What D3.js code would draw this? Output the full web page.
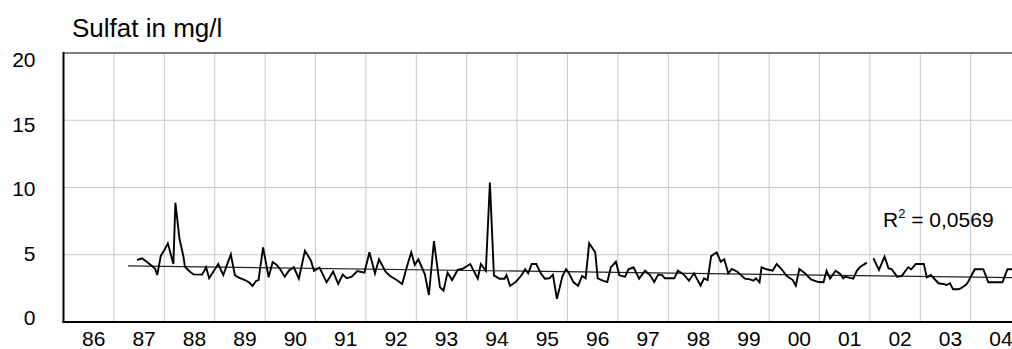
<!DOCTYPE html>
<html>
<head>
<meta charset="utf-8">
<script src="https://cdn.jsdelivr.net/npm/d3@7"></script>
<style>
  html, body { margin: 0; padding: 0; background: #fff; }
  svg { display: block; font-family: "Liberation Sans", Arial, sans-serif; }
</style>
</head>
<body>
<svg id="chart" width="1012" height="349"></svg>
<script>
// ---- data ----
const yearLabels = ["86","87","88","89","90","91","92","93","94","95","96","97","98","99","00","01","02","03","04"];
const yTicks = [0, 5, 10, 15, 20];

const sampleDates = [
  1987.46,1987.56,1987.65,1987.75,1987.82,1987.86,1987.93,1988.01,1988.07,1988.18,
  1988.22,1988.30,1988.38,1988.41,1988.51,1988.58,1988.75,1988.83,1988.89,1989.07,
  1989.17,1989.32,1989.40,1989.48,1989.60,1989.69,1989.75,1989.82,1989.87,1989.96,
  1990.07,1990.15,1990.23,1990.30,1990.39,1990.47,1990.57,1990.67,1990.79,1990.91,
  1990.97,1991.08,1991.22,1991.35,1991.45,1991.54,1991.62,1991.72,1991.83,1991.97,
  1992.07,1992.18,1992.26,1992.39,1992.48,1992.61,1992.72,1992.81,1992.90,1992.97,
  1993.04,1993.17,1993.25,1993.35,1993.47,1993.54,1993.62,1993.71,1993.82,1993.92,
  1994.07,1994.22,1994.28,1994.38,1994.46,1994.54,1994.65,1994.75,1994.79,1994.86,
  1994.98,1995.09,1995.16,1995.22,1995.29,1995.38,1995.47,1995.55,1995.64,1995.71,
  1995.79,1995.90,1995.97,1996.02,1996.12,1996.21,1996.29,1996.36,1996.43,1996.55,
  1996.60,1996.70,1996.79,1996.86,1996.96,1997.03,1997.14,1997.21,1997.31,1997.42,
  1997.54,1997.64,1997.72,1997.80,1997.88,1997.93,1998.12,1998.19,1998.31,1998.41,
  1998.51,1998.64,1998.71,1998.78,1998.85,1998.96,1999.04,1999.11,1999.19,1999.26,
  1999.37,1999.52,1999.62,1999.69,1999.74,1999.81,1999.85,1999.95,2000.07,2000.15,
  2000.25,2000.35,2000.47,2000.53,2000.60,2000.71,2000.83,2000.98,2001.08,2001.14,
  2001.21,2001.32,2001.41,2001.47,2001.51,2001.67,2001.74,2001.80,2001.87,2001.94,
  2002.00,2002.07,2002.18,2002.29,2002.37,2002.43,2002.54,2002.63,2002.76,2002.82,
  2002.91,2003.07,2003.13,2003.21,2003.36,2003.46,2003.52,2003.59,2003.65,2003.75,
  2003.80,2003.85,2003.90,2003.94,2004.08,2004.25,2004.35,2004.63,2004.73,2004.95
];
const sulfatValues = [
  4.61,4.73,4.48,4.19,3.94,3.49,4.91,5.40,5.85,4.31,
  8.87,6.22,4.86,4.11,3.74,3.54,3.52,4.07,3.25,4.31,
  3.49,5.03,3.49,3.29,3.12,2.92,2.68,3.05,3.12,5.55,
  3.32,4.46,4.24,3.92,3.37,3.81,4.07,3.22,5.30,4.56,
  3.81,4.04,2.95,3.74,2.83,3.52,3.25,3.37,3.79,3.67,
  5.18,3.62,4.66,3.74,3.42,3.12,2.83,4.07,5.18,4.24,
  4.66,3.55,2.01,6.02,2.58,2.33,3.67,3.12,3.87,3.96,
  4.31,3.22,4.31,3.81,10.36,3.47,3.22,3.22,3.49,2.68,
  3.00,3.49,3.92,3.62,4.31,4.31,3.62,3.22,3.25,3.52,
  1.73,3.42,3.92,3.69,2.95,2.70,3.42,3.25,5.85,5.18,
  3.25,3.07,2.97,4.07,4.48,3.47,3.35,3.92,4.07,3.22,
  3.81,3.47,2.97,3.52,3.49,3.25,3.25,3.81,3.52,3.07,
  3.62,2.70,3.25,3.12,4.90,5.18,4.48,4.66,3.62,3.94,
  3.74,3.22,3.17,3.07,3.25,2.95,4.07,3.92,3.81,4.31,
  3.92,3.42,3.12,2.70,3.94,3.62,3.17,2.97,2.95,3.81,
  3.22,3.81,3.57,3.25,3.37,3.22,3.81,4.07,4.25,4.41,
  null,4.74,3.87,4.86,3.99,3.94,3.37,3.42,4.07,3.92,
  4.31,4.31,3.32,3.49,2.88,2.83,2.75,2.88,2.43,2.43,
  2.50,2.62,2.75,2.92,3.92,3.92,2.95,2.95,3.92,3.92
];

// linear trend line end points
const trendDates = [1987.28, 2005.0];
const trendValues = [4.17, 3.29];
const trendLabel = "0,0569";
const titleText = "Sulfat in mg/l";

// ---- layout ----
const svg = d3.select("#chart");
const plotLeft = 63.5, plotTop = 53, plotBottom = 322;
const catW = 50.4;
const plotRight = plotLeft + yearLabels.length * catW;

const x = d3.scaleLinear().domain([1986, 1986 + yearLabels.length]).range([plotLeft, plotRight]);
const xBand = d3.scaleBand().domain(yearLabels).range([plotLeft, plotRight]);
const y = d3.scaleLinear().domain([0, 20]).range([plotBottom, plotTop]);
const yLabel = d3.scaleLinear().domain([0, 20]).range([318, 60]);

// grid
const grid = svg.append("g");
grid.selectAll("line.h").data(yTicks.filter(t => t > 0)).join("line")
  .attr("x1", plotLeft).attr("x2", plotRight)
  .attr("y1", d => y(d)).attr("y2", d => y(d))
  .attr("stroke", "#c8c8c8").attr("stroke-width", 1);
grid.selectAll("line.v").data(yearLabels.slice(1)).join("line")
  .attr("x1", d => xBand(d)).attr("x2", d => xBand(d))
  .attr("y1", plotTop).attr("y2", plotBottom)
  .attr("stroke", "#c8c8c8").attr("stroke-width", 1);

// top border
svg.append("line").attr("x1", plotLeft).attr("x2", plotRight)
  .attr("y1", y(20)).attr("y2", y(20))
  .attr("stroke", "#808080").attr("stroke-width", 2);

// trend line
const trend = trendDates.map((d, i) => ({ t: d, v: trendValues[i] }));
svg.append("path").datum(trend)
  .attr("fill", "none").attr("stroke", "#222").attr("stroke-width", 1.2)
  .attr("d", d3.line().x(d => x(d.t)).y(d => y(d.v)));

// data line
const data = sampleDates.map((d, i) => ({ t: d, v: sulfatValues[i] }));
svg.append("path").datum(data)
  .attr("fill", "none").attr("stroke", "#000").attr("stroke-width", 1.9)
  .attr("stroke-linejoin", "miter")
  .attr("d", d3.line().defined(d => d.v != null).x(d => x(d.t)).y(d => y(d.v)));

// axes lines
svg.append("line").attr("x1", plotLeft).attr("x2", plotLeft).attr("y1", plotTop - 1).attr("y2", plotBottom + 1)
  .attr("stroke", "#000").attr("stroke-width", 2);
svg.append("line").attr("x1", plotLeft - 1).attr("x2", plotRight).attr("y1", plotBottom).attr("y2", plotBottom)
  .attr("stroke", "#000").attr("stroke-width", 2);

// y axis labels
const yAxis = svg.append("g").attr("transform", `translate(${plotLeft},0)`)
  .call(d3.axisLeft(yLabel).tickValues(yTicks).tickSize(0).tickPadding(28));
yAxis.select(".domain").remove();
yAxis.selectAll("text").attr("font-size", 21).attr("fill", "#000")
  .attr("font-family", "'Liberation Sans', Arial, sans-serif");

// x axis labels
const xAxis = svg.append("g").attr("transform", `translate(0,${plotBottom})`)
  .call(d3.axisBottom(xBand).tickSize(0).tickPadding(9));
xAxis.select(".domain").remove();
xAxis.selectAll("text").attr("font-size", 21).attr("fill", "#000").attr("dx", 5)
  .attr("font-family", "'Liberation Sans', Arial, sans-serif");

// title
svg.append("text").attr("x", 72).attr("y", 37)
  .attr("font-size", 26).attr("fill", "#000").text(titleText);

// R² label
const rt = svg.append("text").attr("x", 883).attr("y", 227)
  .attr("font-size", 21).attr("fill", "#000");
rt.append("tspan").text("R");
rt.append("tspan").attr("font-size", 13).attr("dy", -9).text("2");
rt.append("tspan").attr("dy", 9).text(" = " + trendLabel);
</script>
</body>
</html>
